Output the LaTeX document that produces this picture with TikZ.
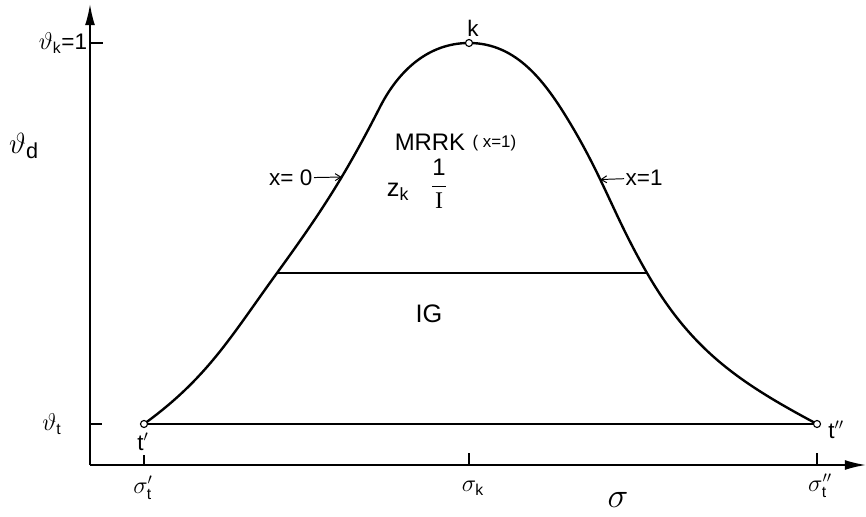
\documentclass[tikz,border=0pt]{standalone}
\usepackage{fontspec}
\setmainfont{Liberation Sans}
\newfontfamily\serfam{Liberation Serif}
\usetikzlibrary{arrows.meta}
\tikzset{
  crv/.style={draw=black,line width=1.7pt},
  ax/.style={draw=black,line width=1.2pt},
  axarr/.style={ax,-{Latex[length=15pt,width=7pt]}},
  tck/.style={draw=black,line width=1pt},
  dot/.style={circle,draw=black,fill=white,line width=0.8pt,inner sep=0pt,minimum size=5pt},
  ann/.style={draw=black,line width=0.7pt,-{Straight Barb[length=4pt,width=5pt]}},
  lb/.style={inner sep=1pt,font=\fontsize{16}{18}\selectfont},
}

\begin{document}
\begin{tikzpicture}
\useasboundingbox (0,0) rectangle (21.65,12.9);
% axes
\coordinate (o) at (2.25,1.275);
\coordinate (ytop) at (2.25,12.8);
\coordinate (xend) at (21.65,1.275);
\draw[axarr] (o) -- (ytop);
\draw[axarr] (o) -- (xend);
% points on the curve
\coordinate (tp) at (3.6,2.3);
\coordinate (kk) at (11.725,11.825);
\coordinate (tpp) at (20.425,2.3);
\coordinate (lig) at (6.925,6.075);
\coordinate (rig) at (16.175,6.075);
\coordinate (pl) at (9.5,10.225);
\coordinate (pr) at (14.25,9.825);
\draw[crv] (tp) to[out=36,in=234] (lig)
  to[out=54,in=243] coordinate[pos=0.6] (xl) (pl)
  to[out=63,in=180,looseness=0.95] (kk)
  to[out=0,in=121,looseness=0.95] (pr)
  to[out=-59,in=120] coordinate[pos=0.37] (xr) (rig)
  to[out=-60,in=152] (tpp);
\draw[crv] (tp) -- (tpp);
\draw[crv] (lig) -- (rig);
\node[dot] (ntp) at (tp) {};
\node[dot] (nk) at (kk) {};
\node[dot] (ntpp) at (tpp) {};
% ticks
\coordinate (yk) at (2.25,11.825);
\coordinate (yt) at (2.25,2.3);
\draw[tck] (yk) -- ++(0.33,0);
\draw[tck] (yt) -- ++(0.3,0);
\draw[tck] (3.6,1.275) -- ++(0,0.25);
\draw[tck] (11.725,1.275) -- ++(0,0.3);
\draw[tck] (20.425,1.275) -- ++(0,0.3);
% labels
\node[lb,anchor=east] (lyk) at (2.22,11.825) {$\vartheta_{\mathrm{k}}$=1};
\node[lb] (lyt) at (1.3,2.3) {$\vartheta_{\mathrm{t}}$};
\node[lb,font=\fontsize{22}{24}\selectfont] (lyd) at (0.6,9.25) {$\vartheta_{\mathrm{d}}$};
\node[lb] (ltp) at (3.575,1.85) {t$'$};
\node[lb] (ltpp) at (20.9,2.15) {t$''$};
\node[lb] (lk) at (11.825,12.2) {k};
\node[lb] (lsp) at (3.575,0.7) {$\sigma'_{\mathrm{t}}$};
\node[lb] (lsk) at (11.825,0.7) {$\sigma_{\mathrm{k}}$};
\node[lb] (lspp) at (20.5,0.75) {$\sigma''_{\mathrm{t}}$};
\node[lb,font=\fontsize{24}{26}\selectfont] (lsig) at (15.45,0.4) {$\sigma$};
\node[lb,font=\fontsize{17}{20}\selectfont] (lmrrk) at (10.75,9.35) {MRRK};
\node[lb,font=\fontsize{12}{14}\selectfont] (lmx) at (12.36,9.33) {( x=1)};
\node[lb,font=\fontsize{18}{20}\selectfont] (lz) at (9.95,8.1) {z\textsubscript{k}};
\node[lb,font=\fontsize{17}{20}\selectfont] (lfr) at (10.975,8.3) {$\displaystyle\frac{\mathrm{1}}{\hbox{\serfam I}}$};
\node[lb,font=\fontsize{18}{20}\selectfont] (lig) at (10.725,5.05) {IG};
\node[lb,anchor=east] (lx0) at (7.85,8.45) {x= 0};
\node[lb,anchor=west] (lx1) at (15.6,8.45) {x=1};
\draw[ann] (lx0) -- (xl);
\draw[ann] (lx1) -- (xr);
\end{tikzpicture}
\end{document}
